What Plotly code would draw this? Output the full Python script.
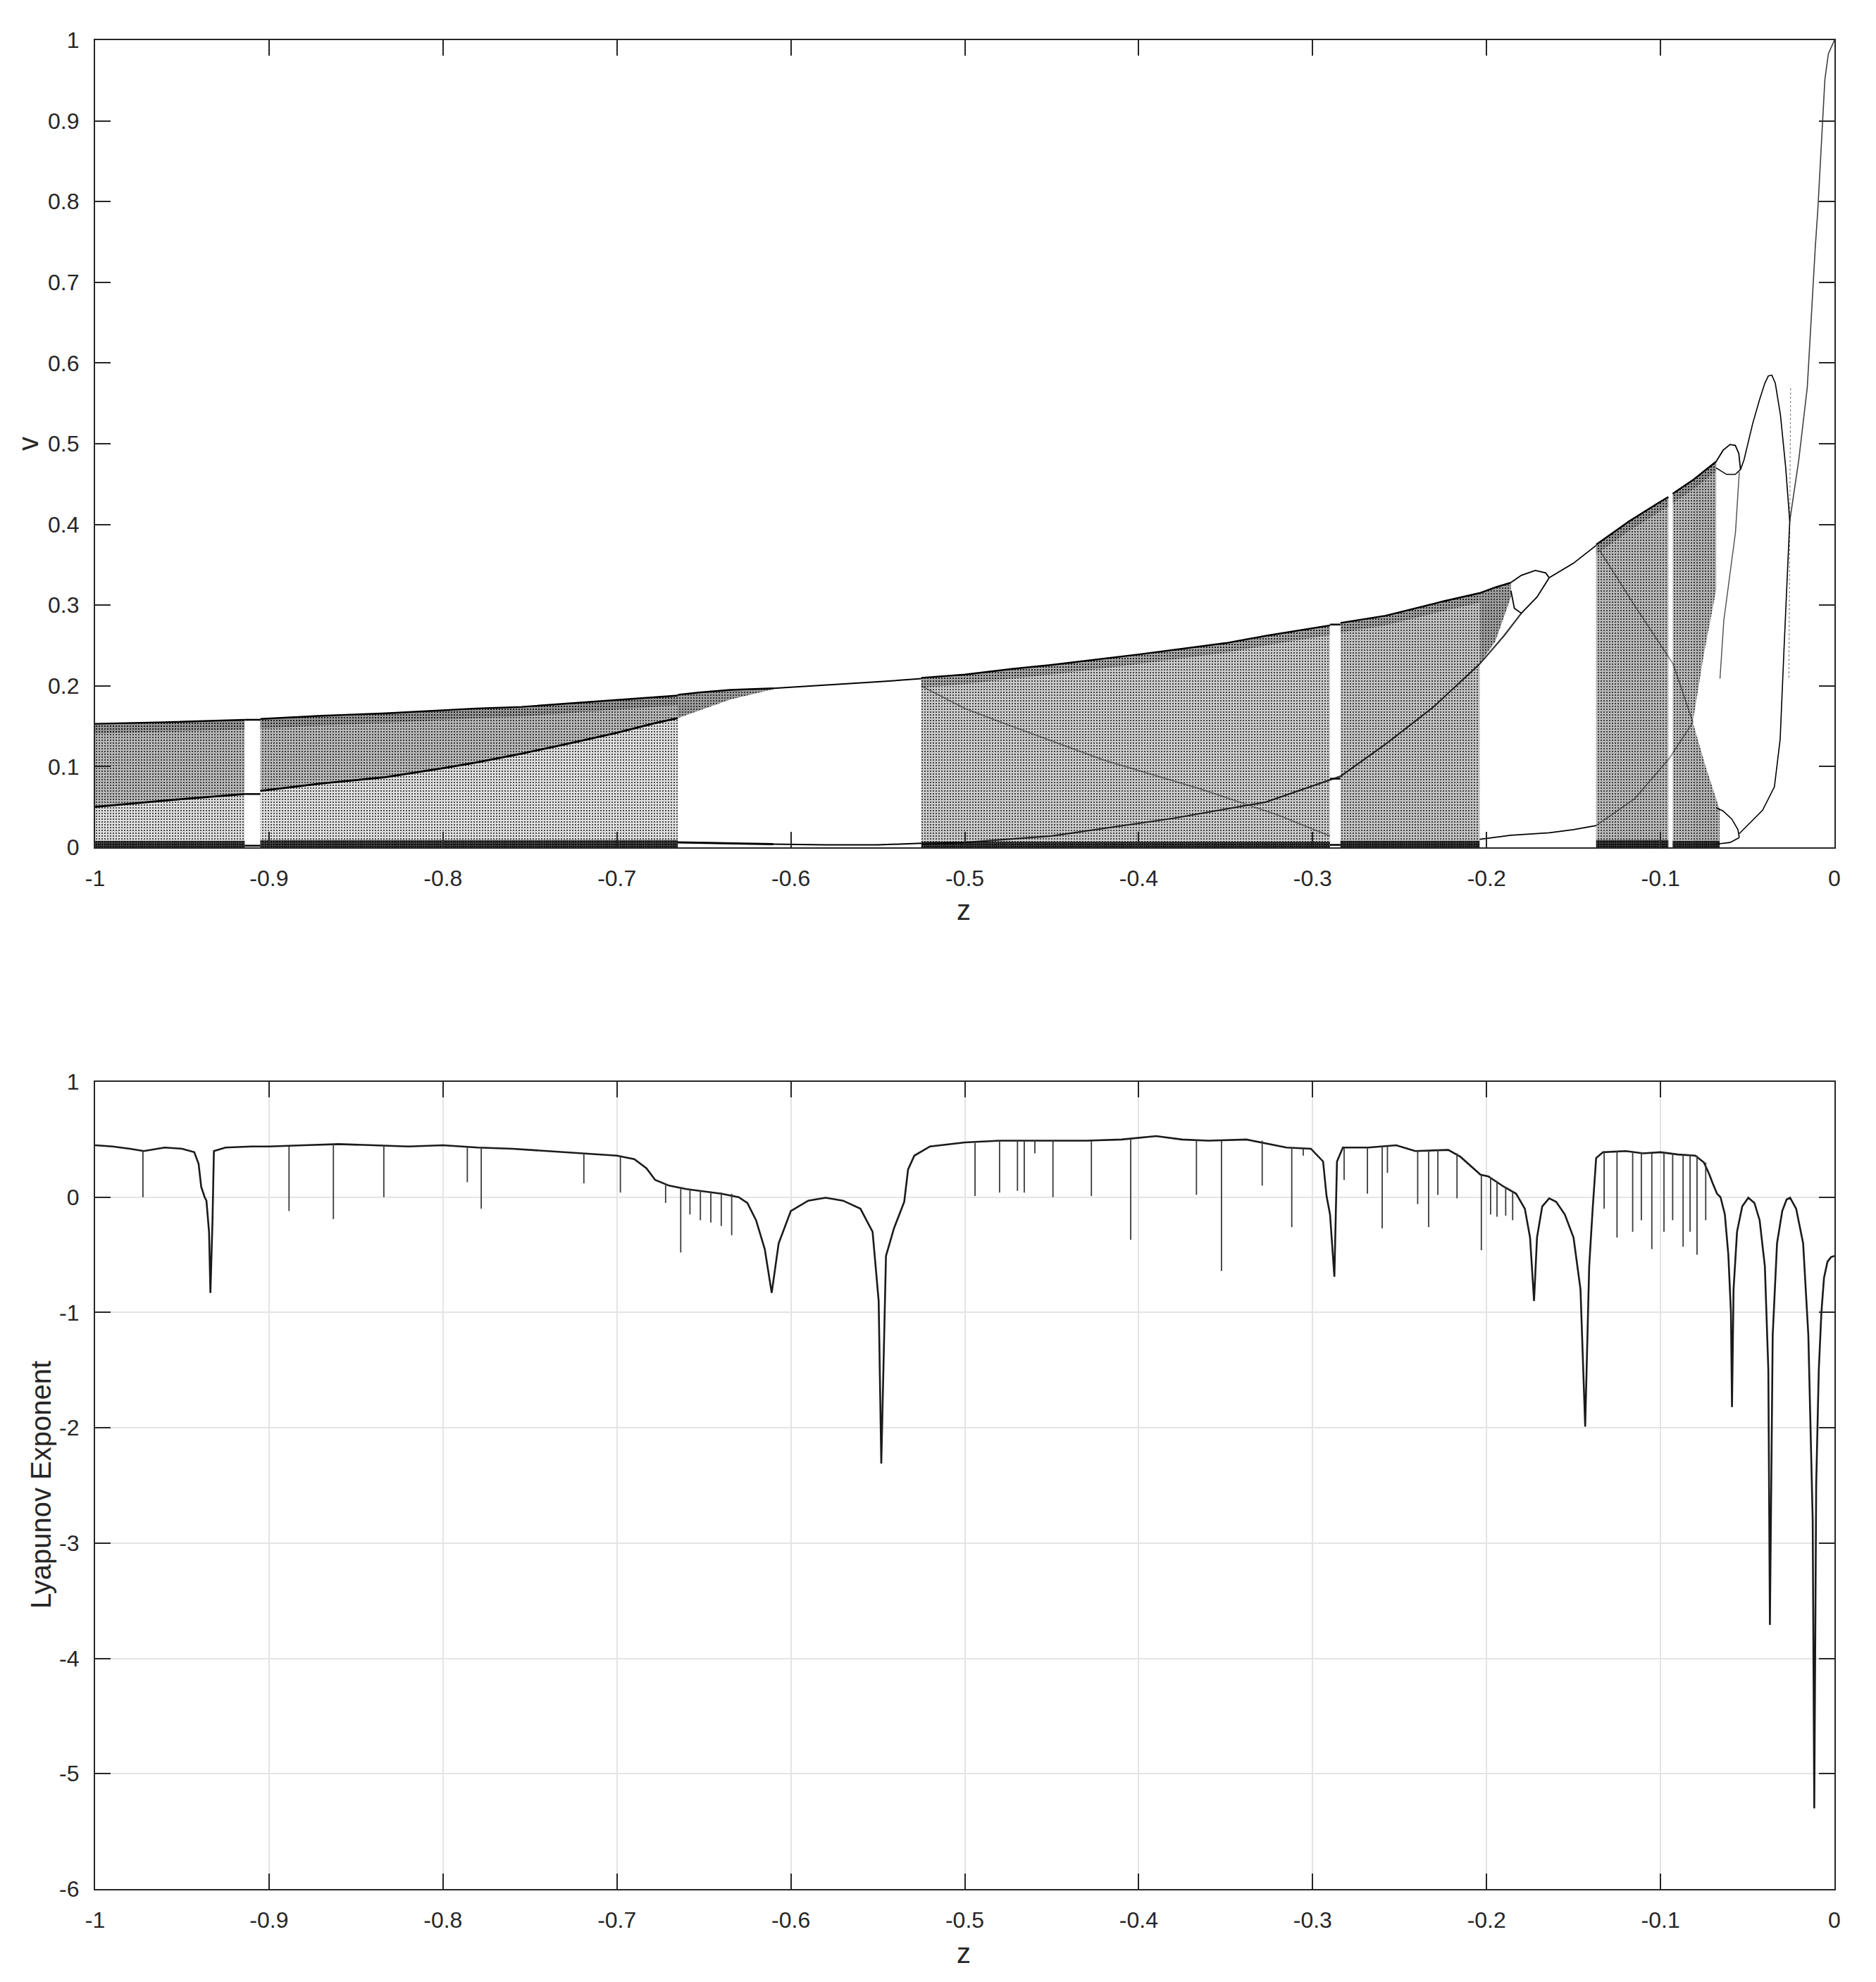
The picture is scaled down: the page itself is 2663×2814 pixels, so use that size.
import plotly.graph_objects as go

# ======================= Bifurcation diagram (top) =======================
# Chaotic regions: z grid, lower / middle (dark caustic) / upper envelope of v
r1a_z   = [-1.0, -0.96, -0.914]
r1a_top = [0.153, 0.155, 0.158]
r1a_mid = [0.050, 0.058, 0.066]

r1b_z   = [-0.905, -0.87, -0.833, -0.80, -0.781, -0.755, -0.729, -0.70, -0.678, -0.665]
r1b_top = [0.159, 0.163, 0.166, 0.170, 0.172, 0.174, 0.178, 0.182, 0.186, 0.188]
r1b_mid = [0.070, 0.079, 0.087, 0.098, 0.105, 0.116, 0.128, 0.142, 0.154, 0.160]

nb_z    = [-0.665, -0.652, -0.635, -0.61]          # narrow upper band after crisis
nb_top  = [0.189, 0.192, 0.195, 0.197]
nb_low  = [0.160, 0.170, 0.183, 0.196]

r2_z    = [-0.525, -0.50, -0.473, -0.45, -0.40, -0.35, -0.327, -0.290]
r2_top  = [0.210, 0.214, 0.221, 0.226, 0.239, 0.253, 0.262, 0.275]

r3_z    = [-0.284, -0.258, -0.2245, -0.204]
r3_top  = [0.278, 0.287, 0.305, 0.315]

ub_z    = [-0.204, -0.195, -0.186]                  # upper band (two-band chaos)
ub_top  = [0.315, 0.322, 0.328]
ub_low  = [0.227, 0.255, 0.310]

r4a_z   = [-0.137, -0.118, -0.1017, -0.0955]
r4a_top = [0.375, 0.404, 0.426, 0.434]
r4b_z   = [-0.093, -0.0814]
r4b_top = [0.438, 0.455]
r4u_z   = [-0.0814, -0.075, -0.068]                 # upper band right of the notch
r4u_top = [0.455, 0.466, 0.478]
r4u_low = [0.155, 0.240, 0.318]
r4l_z   = [-0.0814, -0.074, -0.066]                 # lower band right of the notch
r4l_top = [0.155, 0.100, 0.047]

# Dark caustic curves inside the chaotic regions
c_rise_z = [-0.525, -0.50, -0.45, -0.415, -0.38, -0.327, -0.290, -0.284, -0.258, -0.231, -0.204, -0.19, -0.18]
c_rise_v = [0.004, 0.006, 0.014, 0.025, 0.036, 0.056, 0.083, 0.088, 0.128, 0.173, 0.227, 0.262, 0.290]
c_fall_z = [-0.525, -0.50, -0.473, -0.42, -0.364, -0.32, -0.29]
c_fall_v = [0.200, 0.172, 0.150, 0.108, 0.072, 0.040, 0.014]
c4_fall_z = [-0.135, -0.115, -0.0927, -0.0814]
c4_fall_v = [0.368, 0.300, 0.227, 0.155]
c4_rise_z = [-0.137, -0.115, -0.095, -0.0814]
c4_rise_v = [0.027, 0.060, 0.110, 0.155]

# Periodic branches
p2a_z   = [-0.61, -0.58, -0.55, -0.525]
p2a_up  = [0.197, 0.201, 0.205, 0.209]
p2a_lo  = [0.004, 0.003, 0.003, 0.005]

bub1_up_z = [-0.186, -0.180, -0.172, -0.166, -0.164]
bub1_up_v = [0.328, 0.337, 0.343, 0.340, 0.334]
bub1_lo_z = [-0.186, -0.184, -0.180, -0.171, -0.164]
bub1_lo_v = [0.318, 0.296, 0.290, 0.310, 0.334]
p2b_z     = [-0.164, -0.150, -0.137]
p2b_up    = [0.334, 0.352, 0.374]
p2b_lo_z  = [-0.204, -0.186, -0.164, -0.150, -0.137]
p2b_lo    = [0.010, 0.015, 0.018, 0.022, 0.027]

bub2_up_z = [-0.068, -0.064, -0.060, -0.057, -0.055, -0.054]
bub2_up_v = [0.478, 0.492, 0.499, 0.498, 0.488, 0.468]
bub2_lo_z = [-0.068, -0.062, -0.057, -0.054]
bub2_lo_v = [0.470, 0.462, 0.462, 0.468]

loop_z = [-0.054, -0.052, -0.047, -0.043, -0.040, -0.038, -0.036, -0.034, -0.031, -0.028, -0.0257]
loop_v = [0.468, 0.480, 0.525, 0.555, 0.575, 0.584, 0.585, 0.575, 0.535, 0.470, 0.404]

fall_z = [-0.0547, -0.0569, -0.0636, -0.0658]
fall_v = [0.465, 0.390, 0.281, 0.209]

bub3_up_z = [-0.068, -0.064, -0.059, -0.0555, -0.0547]
bub3_up_v = [0.049, 0.045, 0.035, 0.022, 0.012]
bub3_lo_z = [-0.068, -0.060, -0.0547]
bub3_lo_v = [0.004, 0.006, 0.012]

rise_z = [-0.0547, -0.0413, -0.0345, -0.0312, -0.029, -0.0257]
rise_v = [0.017, 0.046, 0.075, 0.134, 0.245, 0.404]

fix_z = [-0.0257, -0.0205, -0.0156, -0.0123, -0.011, -0.0096, -0.0082, -0.0069, -0.0055, -0.0035, 0.0]
fix_v = [0.404, 0.480, 0.570, 0.700, 0.744, 0.788, 0.846, 0.904, 0.951, 0.983, 1.0]

# transient dots around the first period doubling
tr_z = [-0.0262, -0.0258, -0.0252]
tr_v = [0.210, 0.400, 0.570]

# periodic windows inside chaos: (z_left, z_right, list of v levels)
win1_z = [-0.914, -0.905]
win1_v = [0.158, 0.066, 0.002]
win2_z = [-0.290, -0.284]
win2_v = [0.276, 0.085, 0.003]

# ======================= Lyapunov exponent (bottom) =======================
lyap_z = [-1.000, -0.990, -0.980, -0.972, -0.960, -0.950, -0.943, -0.9405, -0.939, -0.937, -0.936,
          -0.9345, -0.9337, -0.9325, -0.9317, -0.925, -0.910, -0.900, -0.880, -0.860, -0.840, -0.820,
          -0.800, -0.780, -0.760, -0.740, -0.720, -0.700, -0.690, -0.683, -0.678, -0.670, -0.660,
          -0.650, -0.640, -0.630, -0.625, -0.620, -0.615, -0.611, -0.607, -0.600, -0.590, -0.580,
          -0.570, -0.560, -0.553, -0.5495, -0.548, -0.5453, -0.5407, -0.5348, -0.5326, -0.529, -0.520,
          -0.500, -0.480, -0.450, -0.430, -0.410, -0.390, -0.375, -0.360, -0.338, -0.315, -0.301,
          -0.294, -0.292, -0.290, -0.2875, -0.286, -0.2826, -0.268, -0.252, -0.241, -0.222, -0.215,
          -0.2035, -0.199, -0.190, -0.183, -0.178, -0.175, -0.1727, -0.171, -0.168, -0.164, -0.160,
          -0.155, -0.150, -0.146, -0.1433, -0.141, -0.139, -0.137, -0.133, -0.120, -0.110, -0.100,
          -0.090, -0.080, -0.075, -0.072, -0.070, -0.0675, -0.0655, -0.063, -0.061, -0.0595, -0.0589,
          -0.058, -0.056, -0.053, -0.0495, -0.046, -0.043, -0.040, -0.038, -0.0371, -0.0355, -0.033,
          -0.030, -0.0275, -0.0255, -0.022, -0.018, -0.015, -0.0125, -0.0116, -0.0105, -0.009, -0.0075,
          -0.006, -0.004, -0.002, 0.0]
lyap_v = [0.45, 0.44, 0.42, 0.40, 0.43, 0.42, 0.39, 0.29, 0.09, 0.0, -0.03,
          -0.30, -0.83, -0.20, 0.40, 0.43, 0.44, 0.44, 0.45, 0.46, 0.45, 0.44,
          0.45, 0.43, 0.42, 0.40, 0.38, 0.36, 0.33, 0.25, 0.15, 0.10, 0.07,
          0.05, 0.03, 0.0, -0.05, -0.20, -0.45, -0.83, -0.40, -0.12, -0.03, -0.005,
          -0.03, -0.10, -0.30, -0.90, -2.31, -0.51, -0.27, -0.04, 0.24, 0.36, 0.44,
          0.475, 0.49, 0.49, 0.49, 0.50, 0.53, 0.50, 0.49, 0.50, 0.43, 0.42,
          0.31, 0.01, -0.15, -0.69, 0.31, 0.43, 0.43, 0.45, 0.40, 0.41, 0.35,
          0.195, 0.18, 0.09, 0.03, -0.10, -0.35, -0.90, -0.35, -0.08, -0.01, -0.04,
          -0.15, -0.35, -0.80, -1.99, -0.60, -0.10, 0.34, 0.39, 0.40, 0.38, 0.39,
          0.37, 0.36, 0.30, 0.20, 0.12, 0.03, 0.0, -0.15, -0.50, -1.00, -1.82,
          -0.80, -0.30, -0.08, -0.005, -0.05, -0.20, -0.60, -1.50, -3.71, -1.20, -0.40,
          -0.12, -0.02, -0.005, -0.10, -0.40, -1.20, -2.80, -5.30, -2.50, -1.50, -1.00,
          -0.70, -0.56, -0.52, -0.51]

# thin negative spikes: position, baseline value, tip value
spike_z   = [-0.9725, -0.8885, -0.863, -0.834, -0.786, -0.778, -0.719, -0.698,
             -0.672, -0.6633, -0.658, -0.652, -0.646, -0.640, -0.634,
             -0.4941, -0.480, -0.4697, -0.4658, -0.4597, -0.4493, -0.4272, -0.4046, -0.3668,
             -0.3524, -0.329, -0.312, -0.3054, -0.2819, -0.2685, -0.260, -0.257, -0.2396,
             -0.2333, -0.228, -0.217, -0.203, -0.1977, -0.194, -0.189, -0.185,
             -0.1324, -0.125, -0.116, -0.111, -0.105, -0.098, -0.093, -0.087, -0.083, -0.079, -0.074]
spike_top = [0.40, 0.44, 0.46, 0.45, 0.43, 0.43, 0.38, 0.35,
             0.12, 0.09, 0.07, 0.06, 0.05, 0.04, 0.03,
             0.47, 0.49, 0.49, 0.49, 0.49, 0.49, 0.49, 0.50, 0.50,
             0.49, 0.49, 0.43, 0.42, 0.43, 0.43, 0.44, 0.44, 0.40,
             0.41, 0.41, 0.38, 0.19, 0.17, 0.14, 0.09, 0.05,
             0.39, 0.40, 0.40, 0.39, 0.38, 0.39, 0.38, 0.37, 0.37, 0.36, 0.30]
spike_tip = [0.0, -0.12, -0.19, 0.0, 0.13, -0.10, 0.12, 0.04,
             -0.05, -0.48, -0.15, -0.20, -0.22, -0.25, -0.33,
             0.01, 0.04, 0.055, 0.04, 0.38, 0.0, 0.01, -0.37, 0.02,
             -0.64, 0.10, -0.26, 0.36, 0.15, 0.03, -0.27, 0.21, -0.06,
             -0.26, 0.02, -0.01, -0.46, -0.15, -0.17, -0.16, -0.20,
             -0.10, -0.35, -0.30, -0.20, -0.45, -0.30, -0.20, -0.43, -0.30, -0.50, -0.20]

x_ticks = [-1.0, -0.9, -0.8, -0.7, -0.6, -0.5, -0.4, -0.3, -0.2, -0.1, 0.0]
x_tick_text = ["-1", "-0.9", "-0.8", "-0.7", "-0.6", "-0.5", "-0.4", "-0.3", "-0.2", "-0.1", "0"]
v_ticks = [0.0, 0.1, 0.2, 0.3, 0.4, 0.5, 0.6, 0.7, 0.8, 0.9, 1.0]
v_tick_text = ["0", "0.1", "0.2", "0.3", "0.4", "0.5", "0.6", "0.7", "0.8", "0.9", "1"]
l_ticks = [-6, -5, -4, -3, -2, -1, 0, 1]
l_tick_text = ["-6", "-5", "-4", "-3", "-2", "-1", "0", "1"]

# ======================= figure =======================
W, H = 2663, 2814
OFF = 8   # page body margin in the browser
FONT = "Liberation Sans, Arial, Helvetica, sans-serif"
INK = "#262626"

fig = go.Figure()


def band(z, lo, hi, shade, dots=0.2, size=4):
    xs = list(z) + list(z)[::-1]
    ys = list(hi) + list(lo)[::-1]
    fig.add_trace(go.Scatter(
        x=xs, y=ys, mode="lines", fill="toself", line=dict(width=0),
        fillcolor="rgba(0,0,0,%.3f)" % shade,
        fillpattern=dict(shape=".", fgcolor="rgba(0,0,0,0.9)", bgcolor="rgba(0,0,0,%.3f)" % shade,
                         size=size, solidity=dots),
        hoverinfo="skip", showlegend=False, xaxis="x", yaxis="y"))


def curve(z, v, width=2.0, color="black", dash=None, xa="x", ya="y"):
    fig.add_trace(go.Scatter(
        x=z, y=v, mode="lines", line=dict(color=color, width=width, dash=dash),
        hoverinfo="skip", showlegend=False, xaxis=xa, yaxis=ya))


def zeros(n):
    return [0.0] * n


def shifted(vals, d):
    return [max(0.0, x - d) for x in vals]


# chaotic areas
band(r1a_z, r1a_mid, r1a_top, 0.28)
band(r1a_z, zeros(len(r1a_z)), r1a_mid, 0.13)
band(r1b_z, r1b_mid, r1b_top, 0.28)
band(r1b_z, zeros(len(r1b_z)), r1b_mid, 0.12)
band(nb_z, nb_low, nb_top, 0.38)
band(r2_z, zeros(len(r2_z)), r2_top, 0.20)
band(r3_z, zeros(len(r3_z)), r3_top, 0.23)
band(ub_z, ub_low, ub_top, 0.38)
band(r4a_z, zeros(len(r4a_z)), r4a_top, 0.27)
band(r4b_z, zeros(len(r4b_z)), r4b_top, 0.27)
band(r4u_z, r4u_low, r4u_top, 0.30)
band(r4l_z, zeros(len(r4l_z)), r4l_top, 0.30)

# denser strip just under the upper envelopes
for zz, tt in [(r1a_z, r1a_top), (r1b_z, r1b_top), (r2_z, r2_top), (r3_z, r3_top),
               (r4a_z, r4a_top), (r4b_z, r4b_top), (r4u_z, r4u_top)]:
    band(zz, shifted(tt, 0.012), tt, 0.18, 0.15)

# dense strips along the bottom of chaotic regions
for zz, hh in [(r1a_z, 0.008), (r1b_z, 0.009), (r2_z, 0.007), (r3_z, 0.008),
               (r4a_z, 0.009), (r4b_z, 0.008), (r4l_z, 0.008)]:
    band(zz, zeros(len(zz)), [hh] * len(zz), 0.55, 0.5, 3)

# envelopes and caustics
for zz, tt in [(r1a_z, r1a_top), (r1b_z, r1b_top), (r2_z, r2_top), (r3_z, r3_top),
               (r4a_z, r4a_top), (r4b_z, r4b_top), (r4u_z, r4u_top), (nb_z, nb_top), (ub_z, ub_top)]:
    curve(zz, tt, 2.4)
curve(r1a_z, r1a_mid, 2.8)
curve(r1b_z, r1b_mid, 2.8)
curve(c_rise_z, c_rise_v, 2.2, "rgba(0,0,0,0.8)")
curve(c_fall_z, c_fall_v, 2.0, "rgba(0,0,0,0.4)")
curve(c4_fall_z, c4_fall_v, 1.8, "rgba(0,0,0,0.45)")
curve(c4_rise_z, c4_rise_v, 1.8, "rgba(0,0,0,0.45)")

# periodic branches
curve(p2a_z, p2a_up, 2.0)
curve(p2a_z, p2a_lo, 2.0)
curve([-0.665, -0.61], [0.006, 0.004], 3.0)
curve(bub1_up_z, bub1_up_v, 1.8)
curve(bub1_lo_z, bub1_lo_v, 1.8)
curve(p2b_z, p2b_up, 1.8)
curve(p2b_lo_z, p2b_lo, 1.8)
curve(bub2_up_z, bub2_up_v, 1.8)
curve(bub2_lo_z, bub2_lo_v, 1.5)
curve(loop_z, loop_v, 1.6)
curve(fall_z, fall_v, 1.4, "rgba(0,0,0,0.7)")
curve(bub3_up_z, bub3_up_v, 1.6)
curve(bub3_lo_z, bub3_lo_v, 1.6)
curve(rise_z, rise_v, 1.6)
curve(fix_z, fix_v, 1.6, "rgba(0,0,0,0.75)")
curve(tr_z, tr_v, 1.2, "rgba(0,0,0,0.5)", "dot")

for wz, wv in [(win1_z, win1_v), (win2_z, win2_v)]:
    for lvl in wv:
        curve(wz, [lvl, lvl], 2.5)

# Lyapunov exponent
curve(lyap_z, lyap_v, 2.6, "#1a1a1a", xa="x2", ya="y2")
sx, sy = [], []
for z0, t0, b0 in zip(spike_z, spike_top, spike_tip):
    sx += [z0, z0, None]
    sy += [t0, b0, None]
fig.add_trace(go.Scatter(x=sx, y=sy, mode="lines", line=dict(color="#3a3a3a", width=1.8),
                         hoverinfo="skip", showlegend=False, xaxis="x2", yaxis="y2"))

# ----- axes (pixel positions measured on the reference, minus page margin) -----
def px_x(p):
    return (p - OFF) / W


def px_y(p):
    return 1 - (p - OFF) / H


xdom = [px_x(135), px_x(2604)]
top_dom = [px_y(1203), px_y(57)]
bot_dom = [px_y(2682), px_y(1536)]

axis_common = dict(
    showline=True, linecolor=INK, linewidth=2.2, mirror="ticks",
    ticks="inside", ticklen=22, tickwidth=2.2, tickcolor=INK,
    tickfont=dict(family=FONT, size=32, color=INK), zeroline=False,
    automargin=False, ticklabelstandoff=14,
)

fig.update_layout(
    template="none",
    width=W, height=H, autosize=False,
    margin=dict(l=0, r=0, t=0, b=0, pad=0),
    paper_bgcolor="white", plot_bgcolor="white",
    showlegend=False,
    xaxis=dict(domain=xdom, anchor="y", range=[-1, 0], tickvals=x_ticks, ticktext=x_tick_text,
               showgrid=False, **axis_common),
    yaxis=dict(domain=top_dom, anchor="x", range=[0, 1], tickvals=v_ticks, ticktext=v_tick_text,
               showgrid=False, **axis_common),
    xaxis2=dict(domain=xdom, anchor="y2", range=[-1, 0], tickvals=x_ticks, ticktext=x_tick_text,
                showgrid=True, gridcolor="#e4e4e4", gridwidth=2, **axis_common),
    yaxis2=dict(domain=bot_dom, anchor="x2", range=[-6, 1], tickvals=l_ticks, ticktext=l_tick_text,
                showgrid=True, gridcolor="#e4e4e4", gridwidth=2, **axis_common),
    annotations=[
        dict(text="z", x=px_x(1368), y=px_y(1292), xref="paper", yref="paper", showarrow=False,
             xanchor="center", yanchor="middle", font=dict(family=FONT, size=40, color=INK)),
        dict(text="z", x=px_x(1368), y=px_y(2773), xref="paper", yref="paper", showarrow=False,
             xanchor="center", yanchor="middle", font=dict(family=FONT, size=40, color=INK)),
        dict(text="v", x=px_x(40), y=px_y(630), xref="paper", yref="paper", showarrow=False,
             textangle=-90, xanchor="center", yanchor="middle", font=dict(family=FONT, size=40, color=INK)),
        dict(text="Lyapunov Exponent", x=px_x(58), y=px_y(2108), xref="paper", yref="paper",
             showarrow=False, textangle=-90, xanchor="center", yanchor="middle",
             font=dict(family=FONT, size=40, color=INK)),
    ],
)

fig.write_html("out.html")
